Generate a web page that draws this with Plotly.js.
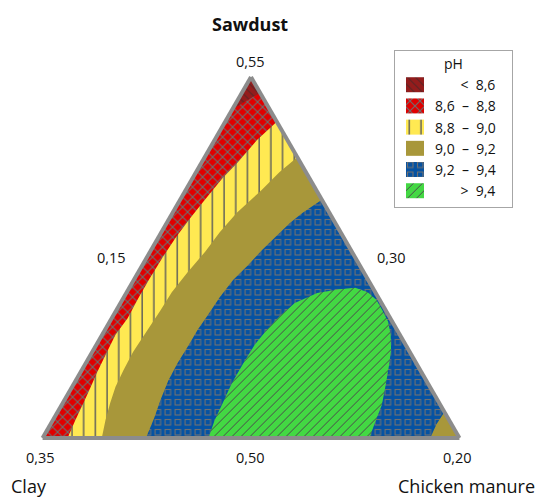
<!DOCTYPE html>
<html>
<head>
<meta charset="utf-8">
<script src="https://cdn.plot.ly/plotly-3.0.1.min.js"></script>
<style>html,body{margin:0;padding:0;background:#fff;}#chart{width:543px;height:500px;}</style>
</head>
<body>
<div id="chart"></div>
<script>
// Mixture component ranges (Sawdust + Clay + Chicken manure = 1)
const componentNames = ['Sawdust', 'Clay', 'Chicken manure'];
const componentMin = [0.50, 0.30, 0.15];
const componentMax = [0.55, 0.35, 0.20];

// Simplex vertices: Sawdust apex, Clay vertex, Chicken manure vertex
const vertexSawdust = [0.55, 0.50, 0.50];
const vertexChicken = [0.15, 0.15, 0.20];

// pH contour boundaries (Sawdust, Chicken manure; Clay = 1 - both)
// pH 8.6 (left edge -> right edge)
const c86Sawdust = [0.5455, 0.5467, 0.5478];
const c86Chicken = [0.1500, 0.1511, 0.1522];
// pH 8.8 (right edge -> bottom edge)
const c88Sawdust = [0.5438, 0.5413, 0.5381, 0.5360, 0.5341, 0.5327, 0.5305, 0.5278, 0.5251, 0.5222, 0.5194, 0.5166, 0.5143, 0.5115, 0.5091, 0.5066, 0.5046, 0.5024, 0.5000];
const c88Chicken = [0.1562, 0.1551, 0.1543, 0.1536, 0.1532, 0.1529, 0.1525, 0.1521, 0.1519, 0.1518, 0.1518, 0.1519, 0.1516, 0.1518, 0.1520, 0.1523, 0.1525, 0.1527, 0.1530];
// pH 9.0 (right edge -> bottom edge)
const c90Sawdust = [0.5389, 0.5368, 0.5343, 0.5312, 0.5285, 0.5258, 0.5229, 0.5202, 0.5177, 0.5147, 0.5119, 0.5094, 0.5071, 0.5048, 0.5025, 0.5000];
const c90Chicken = [0.1611, 0.1600, 0.1591, 0.1577, 0.1570, 0.1566, 0.1559, 0.1554, 0.1553, 0.1551, 0.1549, 0.1550, 0.1552, 0.1557, 0.1563, 0.1571];
// pH 9.2 main (right edge -> bottom edge)
const c92Sawdust = [0.5330, 0.5312, 0.5298, 0.5278, 0.5260, 0.5240, 0.5219, 0.5195, 0.5169, 0.5150, 0.5129, 0.5104, 0.5080, 0.5053, 0.5028, 0.5000];
const c92Chicken = [0.1670, 0.1656, 0.1648, 0.1640, 0.1633, 0.1627, 0.1619, 0.1615, 0.1613, 0.1611, 0.1611, 0.1610, 0.1611, 0.1615, 0.1620, 0.1624];
// pH 9.2 near Chicken manure vertex (bottom edge -> right edge)
const c92cSawdust = [0.5000, 0.5019, 0.5036];
const c92cChicken = [0.1965, 0.1963, 0.1964];
// pH 9.4 closed region (along bottom edge)
const c94Sawdust = [0.5000, 0.5025, 0.5048, 0.5076, 0.5104, 0.5129, 0.5150, 0.5169, 0.5187, 0.5201, 0.5206, 0.5208, 0.5202, 0.5191, 0.5177, 0.5161, 0.5143, 0.5122, 0.5104, 0.5073, 0.5046, 0.5022, 0.5000];
const c94Chicken = [0.1699, 0.1694, 0.1692, 0.1689, 0.1689, 0.1690, 0.1694, 0.1700, 0.1709, 0.1729, 0.1753, 0.1771, 0.1789, 0.1805, 0.1819, 0.1834, 0.1846, 0.1857, 0.1864, 0.1875, 0.1884, 0.1888, 0.1892];

// Legend classes
const NB = '\u00a0';
const phLabels = [NB.repeat(7) + '<' + NB + NB + '8,6',
                  '8,6' + NB + NB + '\u2013' + NB + NB + '8,8',
                  '8,8' + NB + NB + '\u2013' + NB + NB + '9,0',
                  '9,0' + NB + NB + '\u2013' + NB + NB + '9,2',
                  '9,2' + NB + NB + '\u2013' + NB + NB + '9,4',
                  NB.repeat(7) + '>' + NB + NB + '9,4'];
const phColors = ['#941c1c', '#e00000', '#ffe952', '#a8973a', '#0552a2', '#43d843'];

const rev = a => a.slice().reverse();
const F = 'Open Sans, sans-serif';

// region traces and the pH class each one fills
const regionClass = [3, 4, 5, 2, 1, 0];
function region(S, C, idx) {
  return {
    type: 'scatterternary', mode: 'lines', sum: 1,
    a: S, c: C, fill: 'toself', fillcolor: phColors[idx],
    line: {width: 0}, hoverinfo: 'skip', showlegend: false
  };
}

const traces = [
  region(vertexSawdust, vertexChicken, 3),
  region(c92Sawdust.concat(c92cSawdust), c92Chicken.concat(c92cChicken), 4),
  region(c94Sawdust, c94Chicken, 5),
  region([vertexSawdust[0], vertexSawdust[1]].concat(rev(c90Sawdust)), [vertexChicken[0], vertexChicken[1]].concat(rev(c90Chicken)), 2),
  region([vertexSawdust[0], vertexSawdust[1]].concat(rev(c88Sawdust)), [vertexChicken[0], vertexChicken[1]].concat(rev(c88Chicken)), 1),
  region([vertexSawdust[0]].concat(c86Sawdust), [vertexChicken[0]].concat(c86Chicken), 0)
];

// legend entries (one per pH class)
phLabels.forEach((lab, i) => {
  traces.push({
    type: 'bar', x: [null], y: [null], name: lab + NB.repeat(3), showlegend: true, hoverinfo: 'skip',
    marker: {color: phColors[i], line: {width: 0}}
  });
});

const axisStyle = {showticklabels: false, ticks: '', showgrid: false, linecolor: '#8c8c8c', linewidth: 4, title: {text: ''}};

const annText = (text, x, y, size, bold, yanchor) => ({
  text: bold ? '<b>' + text + '</b>' : text, x: x, y: y, xref: 'paper', yref: 'paper',
  xanchor: 'center', yanchor: yanchor || 'middle', showarrow: false,
  font: {family: F, size: size, color: '#111111'}
});

const fmt = v => v.toFixed(2).replace('.', ',');

const layout = {
  width: 543, height: 500,
  margin: {l: 42, r: 83, t: 77, b: 62},
  paper_bgcolor: '#ffffff', plot_bgcolor: 'rgba(0,0,0,0)',
  font: {family: F, size: 14, color: '#111111'},
  showlegend: true,
  xaxis: {visible: false, fixedrange: true}, yaxis: {visible: false, fixedrange: true},
  ternary: {
    sum: 1, domain: {x: [0, 1], y: [0, 1]}, bgcolor: '#ffffff',
    aaxis: Object.assign({}, axisStyle, {min: componentMin[0]}),
    baxis: Object.assign({}, axisStyle, {min: componentMin[1]}),
    caxis: Object.assign({}, axisStyle, {min: componentMin[2]})
  },
  legend: {
    x: 0.8421, y: 1.075, xanchor: 'left', yanchor: 'top',
    bgcolor: '#ffffff', bordercolor: '#a6a6a6', borderwidth: 1,
    font: {family: F, size: 14, color: '#111111'},
    title: {text: 'pH', side: 'top center', font: {family: F, size: 14}},
    tracegroupgap: 0
  },
  annotations: [
    annText(componentNames[0], 0.498, 1.147, 18, true),
    annText(fmt(componentMax[0]), 0.499, 1.044, 14.5),
    annText(fmt(componentMin[2]), 0.166, 0.499, 14.5),
    annText(fmt(componentMin[1]), 0.837, 0.499, 14.5),
    annText(fmt(componentMax[1]), -0.004, -0.055, 14.5),
    annText(fmt(componentMin[0]), 0.499, -0.055, 14.5),
    annText(fmt(componentMax[2]), 0.994, -0.055, 14.5),
    annText(componentNames[1], -0.031, -0.1704, 18, false, 'bottom'),
    annText(componentNames[2], 1.016, -0.1704, 18, false, 'bottom')
  ]
};

// hatch / texture styles of each pH class (drawn as SVG patterns)
const patternSvg = [
  {w: 8, h: 8, body: '<path d="M-2,-2L10,10M-6,2L2,10M2,-6L10,2" stroke="#5c2424" stroke-width="1.2"/>'},
  {w: 10, h: 10, body: '<path d="M0,0L10,10M10,0L0,10" stroke="#6e6e6e" stroke-width="1.1"/>'},
  {w: 11.7, h: 10, body: '<path d="M6,0V10" stroke="#5a5a5a" stroke-width="1.4"/>'},
  null,
  {w: 10, h: 10, body: '<rect x="2.5" y="2.5" width="5.5" height="5.5" fill="none" stroke="#707070" stroke-width="1.1"/>'},
  {w: 9, h: 9, body: '<path d="M-1,10L10,-1M-3,3L3,-3M6,12L12,6" stroke="#4a4a4a" stroke-width="1"/>'}
];

Plotly.newPlot('chart', traces, layout, {displayModeBar: false, staticPlot: true}).then(gd => {
  const svg = gd.querySelector('svg.main-svg');
  const ns = 'http://www.w3.org/2000/svg';
  const defs = document.createElementNS(ns, 'defs');
  svg.insertBefore(defs, svg.firstChild);
  patternSvg.forEach((p, i) => {
    if (!p) return;
    const pat = document.createElementNS(ns, 'pattern');
    pat.setAttribute('id', 'phpat' + i);
    pat.setAttribute('patternUnits', 'userSpaceOnUse');
    pat.setAttribute('width', p.w);
    pat.setAttribute('height', p.h);
    pat.innerHTML = '<rect width="' + p.w + '" height="' + p.h + '" fill="' + phColors[i] + '"/>' + p.body;
    defs.appendChild(pat);
  });
  const fillFor = i => patternSvg[i] ? 'url(#phpat' + i + ')' : phColors[i];
  gd.querySelectorAll('path.js-fill').forEach((el, k) => {
    if (k < regionClass.length) el.style.setProperty('fill', fillFor(regionClass[k]));
  });
  gd.querySelectorAll('g.legend g.traces').forEach((g, k) => {
    g.querySelectorAll('g.legendpoints path').forEach(p => {
      p.setAttribute('d', 'M9,7.5H-9V-7.5H9Z');
      p.style.setProperty('fill', fillFor(k));
    });
  });
});
</script>
</body>
</html>
